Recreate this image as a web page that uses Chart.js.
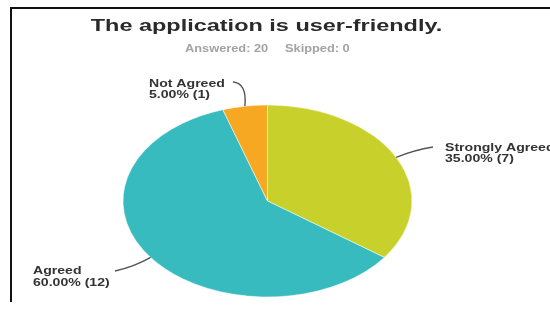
<!DOCTYPE html>
<html>
<head>
<meta charset="utf-8">
<script src="https://cdn.jsdelivr.net/npm/chart.js@4/dist/chart.umd.min.js"></script>
<style>
  html, body { margin: 0; padding: 0; background: #ffffff; }
  #wrap { position: relative; width: 550px; height: 309px; overflow: hidden; }
  canvas { display: block; }
</style>
</head>
<body>
<div id="wrap"><canvas id="c" width="550" height="309"></canvas></div>
<script>
// ---- data ----
const titleText = 'The application is user-friendly.';
const categories = ['Strongly Agreed', 'Agreed', 'Not Agreed'];
const counts = [7, 12, 1];
const answered = 20;
const skipped = 0;
const sliceColors = ['#C8D12C', '#38BBBE', '#F6A822'];

const total = counts.reduce((a, b) => a + b, 0);
const pctLabels = counts.map(c => (c / total * 100).toFixed(2) + '% (' + c + ')');

// ---- styling / layout (not data) ----
const FONT = '"Liberation Sans", Arial, Helvetica, sans-serif';
const ellipse = { cx: 267.5, cy: 201, rx: 144.5, ry: 96 };
const labelLayout = [
  { x: 445, y1: 151, y2: 161.5, lx: 433, ly: 147, qx: 414, qy: 150 },   // Strongly Agreed
  { x: 33,  y1: 274, y2: 286,   lx: 115, ly: 271, qx: 134, qy: 267 },   // Agreed
  { x: 149, y1: 87,  y2: 97.5,  lx: 233, ly: 82,  qx: 247, qy: 83 }     // Not Agreed
];

function drawText(ctx, text, x, y, font, color, sx, align) {
  ctx.save();
  ctx.font = font;
  ctx.fillStyle = color;
  ctx.textAlign = 'left';
  ctx.textBaseline = 'alphabetic';
  const w = ctx.measureText(text).width * sx;
  const x0 = align === 'center' ? x - w / 2 : x;
  ctx.translate(x0, y);
  ctx.scale(sx, 1);
  ctx.fillText(text, 0, 0);
  ctx.restore();
}

function arcTransform(chart) {
  const arc = chart.getDatasetMeta(0).data[0];
  const r = arc.outerRadius;
  return { cx: arc.x, cy: arc.y, sx: ellipse.rx / r, sy: ellipse.ry / r };
}

const ellipsePlugin = {
  id: 'ellipsePie',
  beforeDatasetsDraw(chart) {
    const t = arcTransform(chart);
    const ctx = chart.ctx;
    ctx.save();
    ctx.translate(ellipse.cx, ellipse.cy);
    ctx.scale(t.sx, t.sy);
    ctx.translate(-t.cx, -t.cy);
  },
  afterDatasetsDraw(chart) {
    chart.ctx.restore();
  },
  afterDraw(chart) {
    const ctx = chart.ctx;
    // frame
    ctx.save();
    ctx.fillStyle = '#111111';
    ctx.fillRect(10, 7, 2, 295);
    ctx.fillRect(10, 7, 540, 2);
    ctx.restore();

    // title + subtitle
    drawText(ctx, titleText, 266.5, 31, 'bold 17px ' + FONT, '#2a2a2a', 1.38, 'center');
    drawText(ctx, 'Answered: ' + answered, 185, 52, 'bold 10px ' + FONT, '#a3a3a3', 1.28, 'left');
    drawText(ctx, 'Skipped: ' + skipped, 285, 52, 'bold 10px ' + FONT, '#a3a3a3', 1.28, 'left');

    // leader lines + labels
    const meta = chart.getDatasetMeta(0);
    meta.data.forEach((arc, i) => {
      const mid = (arc.startAngle + arc.endAngle) / 2;
      const ex = ellipse.cx + Math.cos(mid) * ellipse.rx;
      const ey = ellipse.cy + Math.sin(mid) * ellipse.ry;
      const L = labelLayout[i];
      ctx.save();
      ctx.strokeStyle = '#555555';
      ctx.lineWidth = 1.4;
      ctx.beginPath();
      ctx.moveTo(L.lx, L.ly);
      ctx.quadraticCurveTo(L.qx, L.qy, ex, ey);
      ctx.stroke();
      ctx.restore();
      drawText(ctx, categories[i], L.x, L.y1, 'bold 11px ' + FONT, '#333333', 1.28, 'left');
      drawText(ctx, pctLabels[i], L.x, L.y2, 'bold 11px ' + FONT, '#333333', 1.28, 'left');
    });
  }
};

new Chart(document.getElementById('c'), {
  type: 'pie',
  data: {
    labels: categories,
    datasets: [{
      data: counts,
      backgroundColor: sliceColors,
      borderColor: '#ffffff',
      borderWidth: 0.6
    }]
  },
  options: {
    responsive: false,
    animation: false,
    layout: { padding: { top: 10, bottom: 10, left: 123, right: 138 } },
    plugins: {
      legend: { display: false },
      tooltip: { enabled: false },
      title: { display: false }
    }
  },
  plugins: [ellipsePlugin]
});
</script>
</body>
</html>
